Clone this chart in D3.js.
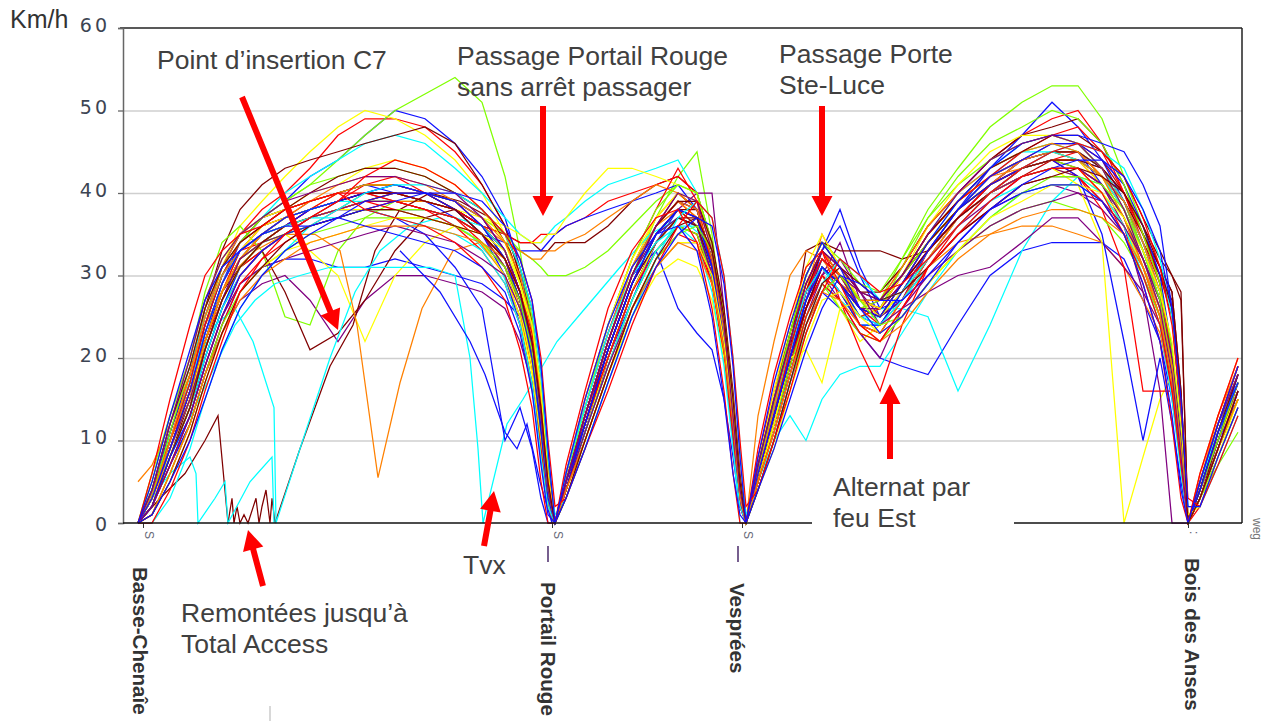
<!DOCTYPE html>
<html><head><meta charset="utf-8">
<script src="https://cdn.jsdelivr.net/npm/d3@7"></script>
<style>body{margin:0;background:#fff}svg{display:block}</style>
</head><body>
<svg id="chart" width="1266" height="721"></svg>
<script>
// ---------------- DATA ----------------
const yTicks = [0, 10, 20, 30, 40, 50, 60];
// distance grid (m) for each section
const gridA = [30,58,94,134,164,198,234,278,324,374,430,484,544,604,664,718,764,794,818,836,850,864];
const gridB = [886,924,970,1018,1066,1110,1148,1178,1202,1220,1234,1246];
const gridC = [1270,1302,1334,1366,1398,1434,1474,1514,1558,1610,1670,1734,1798,1858,1910,1958,2002,2040,2074,2098,2116,2130];
const gridD = [2154,2190,2230];
const stopNames = ["Basse-Chenaîe", "Portail Rouge", "Vesprées", "Bois des Anses"];
const stopDist = [40, 858, 1238, 2130];

// speed runs (km/h), each run = [sectionA, sectionB, sectionC, sectionD]
const redRuns = [
 [[0,4,11,18,25,31,35,38,40,43,47,49,49,48,45,41,36,30,22,13,4,0],[6,14,23,31,37,40,38,31,21,11,3,0],[8,16,23,29,33,30,26,27,31,36,40,44,47,49,50,46,40,34,28,19,9,0],[5,11,18]],
 [[0,2,8,14,22,28,33,34,36,38,39,41,42,40,39,36,32,26,19,10,3,0],[4,11,20,28,34,37,36,30,21,11,2,0],[5,12,19,26,30,28,24,23,27,33,38,42,44,45,44,41,37,31,26,18,8,0],[3,9,16]],
 [[0,3,10,16,23,29,33,36,37,38,40,41,41,40,38,36,35,34,34,35,35,35],[36,37,39,40,41,42,40,33,24,13,4,0],[7,14,21,28,32,30,26,24,28,33,37,40,42,43,43,40,36,31,25,17,8,0],[4,11,18]],
 [[0,3,9,16,22,27,31,33,35,36,38,39,38,38,37,34,30,25,19,11,3,0],[5,13,22,30,36,39,37,30,20,10,2,0],[6,14,22,28,33,27,21,16,24,31,36,40,43,44,45,43,39,34,29,21,11,0],[5,12,19]],
 [[0,2,7,13,19,25,30,33,35,37,38,39,40,39,38,36,33,28,22,13,5,0],[5,12,20,28,33,36,35,29,20,10,3,0],[5,12,19,26,30,28,25,26,29,33,37,41,43,44,42,38,31,16,16,16,9,0],[3,9,15]],
 [[0,4,10,17,24,30,34,36,38,39,40,40,39,38,36,33,29,24,17,9,2,0],[6,15,24,32,38,43,39,31,21,10,2,0],[6,13,21,28,32,30,27,26,30,35,39,42,45,47,48,45,40,35,29,20,10,0],[4,10,17]],
 [[0,1,6,12,18,24,29,32,34,36,37,38,39,38,37,35,32,28,23,14,6,0],[4,10,18,26,32,35,34,29,21,12,4,0],[5,11,18,25,29,27,23,22,26,31,35,38,41,42,42,39,35,30,24,16,7,0],[2,8,14]],
 [[0,0,4,10,16,22,28,32,35,37,39,42,44,43,41,38,35,32,27,20,10,2],[3,9,16,24,31,36,39,37,30,20,10,2],[4,10,16,23,28,32,30,28,29,32,36,40,43,45,46,45,42,37,31,24,14,3],[2,7,13]],
 [[0,6,15,24,30,33,35,36,38,39,40,38,37,36,34,31,27,21,14,5,0,0],[7,16,26,33,37,38,34,26,16,6,0,0],[9,18,25,31,33,29,24,22,26,31,35,39,42,43,43,40,35,29,22,12,3,0],[6,13,20]]
];
const blueRuns = [
 [[0,3,9,15,22,29,34,37,39,42,44,47,50,49,46,42,37,31,24,14,5,0],[4,11,20,28,34,38,37,32,23,13,4,0],[6,13,20,27,33,36,30,25,27,33,38,43,47,51,48,44,39,33,27,18,8,0],[4,11,16]],
 [[0,2,7,12,18,24,29,31,32,32,31,31,32,31,30,29,27,25,20,11,3,0],[5,13,22,30,33,26,23,21,15,8,2,0],[4,10,17,23,28,26,23,20,19,18,24,30,33,34,34,34,32,27,22,15,7,0],[3,9,16]],
 [[0,4,11,18,25,31,35,37,38,39,40,41,40,39,37,35,34,33,33,33,34,35],[36,37,38,39,40,41,38,32,22,12,3,0],[6,13,21,27,33,38,31,26,27,32,37,41,43,44,44,43,39,34,28,20,10,0],[5,12,17]],
 [[0,2,8,14,20,26,31,34,36,37,38,38,37,35,31,26,10,14,9,3,0,0],[4,11,20,27,34,37,36,30,22,12,3,0],[5,12,19,26,31,29,26,25,28,33,37,41,44,45,45,41,37,32,27,19,9,0],[4,10,15]],
 [[0,3,10,17,24,30,33,35,36,38,39,40,41,40,38,35,30,24,17,8,2,0],[6,14,23,31,36,39,38,32,23,13,4,0],[7,15,22,28,31,28,24,24,28,33,38,41,43,44,42,35,22,10,20,12,5,0],[3,9,16]],
 [[0,2,8,13,19,25,30,33,35,36,37,39,40,40,39,37,33,28,21,12,4,0],[4,12,21,29,35,38,37,31,22,12,3,0],[6,13,20,27,31,29,25,24,28,33,38,42,44,46,46,44,41,36,30,21,10,0],[4,10,18]],
 [[0,3,9,16,23,29,33,35,37,38,39,40,41,40,39,36,32,27,20,11,3,0],[5,12,21,29,35,38,37,31,22,12,3,0],[6,13,20,27,31,29,26,25,29,34,39,43,46,47,47,46,45,41,36,26,12,0],[4,11,17]],
 [[0,1,5,10,15,21,26,30,33,35,37,38,39,40,40,39,36,32,27,19,9,0],[3,9,17,25,31,35,37,36,29,19,8,0],[4,9,15,21,26,30,29,27,27,30,34,38,41,43,44,44,42,38,33,26,15,2],[2,8,14]],
 [[0,5,13,21,27,31,33,35,36,36,37,36,35,34,33,31,28,23,16,7,1,0],[6,15,24,31,35,36,33,25,15,6,1,0],[8,17,24,30,34,31,26,23,25,29,34,38,40,41,41,39,35,29,22,13,4,0],[5,12,19]]
];
const limeRuns = [
 [[0,5,13,20,27,32,35,37,39,41,44,47,50,52,54,51,42,33,24,13,4,0],[5,13,22,30,37,42,45,35,24,13,4,0],[7,15,23,30,34,31,27,27,32,38,43,48,51,53,53,49,42,36,29,20,10,0],[3,7,11]],
 [[0,6,13,20,28,34,36,33,25,24,33,37,39,39,38,36,32,27,20,11,3,0],[5,12,21,29,35,38,36,30,21,11,3,0],[6,14,21,28,32,30,27,26,31,37,41,44,46,47,46,43,39,33,27,19,9,0],[4,10,16]],
 [[0,4,10,17,24,30,34,36,38,39,40,41,41,40,39,37,35,33,32,31,30,30],[30,31,33,36,39,41,40,34,24,13,4,0],[6,14,21,28,31,29,26,27,30,35,39,42,44,45,44,42,38,33,28,21,11,0],[3,9,15]],
 [[0,3,9,15,21,27,32,34,36,37,38,39,40,39,38,35,31,26,20,11,3,0],[5,12,21,29,35,38,37,31,22,12,3,0],[5,13,20,27,31,29,25,26,30,34,38,41,43,44,43,41,37,32,27,20,10,0],[4,11,18]],
 [[0,2,8,14,21,27,31,34,35,36,37,38,38,38,37,35,32,27,20,11,3,0],[4,11,19,27,33,36,35,30,21,11,3,0],[5,12,19,25,29,26,23,22,25,29,33,36,38,39,38,37,34,30,25,18,9,0],[3,9,15]],
 [[0,3,11,19,26,31,34,37,39,41,42,43,43,42,40,38,35,31,25,16,6,0],[5,14,24,32,38,41,40,34,25,14,5,0],[6,15,23,30,34,32,29,28,32,37,42,46,48,50,49,46,41,35,29,21,11,0],[4,10,17]],
 [[0,1,6,12,18,24,28,31,33,35,36,37,37,37,36,34,31,27,21,13,4,0],[3,10,18,26,32,35,36,33,25,15,5,0],[4,10,17,23,28,30,27,24,25,29,33,37,40,42,42,41,38,33,27,19,9,0],[3,8,14]]
];
const yellowRuns = [
 [[0,3,10,17,24,31,36,39,42,45,48,50,49,47,44,40,35,29,22,12,4,0],[5,13,22,31,37,40,38,32,23,12,3,0],[7,15,22,29,33,30,26,26,30,35,39,43,45,46,45,42,37,31,25,17,8,0],[4,11,17]],
 [[0,4,10,16,22,28,32,34,35,33,30,22,30,34,36,35,32,27,20,11,3,0],[5,13,22,30,36,39,37,31,22,12,3,0],[6,13,20,26,30,26,22,24,28,33,37,40,42,43,42,40,36,30,24,16,7,0],[4,10,16]],
 [[0,3,9,16,23,29,33,36,37,38,39,40,40,39,38,37,36,35,34,34,35,35],[37,40,43,43,42,41,40,33,24,13,4,0],[5,12,19,26,31,29,26,25,29,34,38,41,43,44,44,41,37,32,27,19,9,0],[4,11,17]],
 [[0,2,8,14,21,27,31,34,35,37,38,39,39,38,37,35,31,26,19,10,3,0],[4,11,20,28,34,37,36,31,22,12,3,0],[5,13,20,27,32,30,26,25,28,32,37,40,42,43,41,34,0,8,15,18,8,0],[3,9,15]],
 [[0,3,9,15,22,28,32,35,36,37,38,38,38,37,36,34,30,25,18,9,2,0],[4,10,18,25,30,32,31,27,20,11,3,0],[5,12,20,21,17,26,27,25,28,33,37,40,42,43,43,40,36,31,26,18,9,0],[4,10,16]],
 [[0,4,12,20,27,32,35,37,38,40,41,43,44,43,41,38,34,29,23,14,5,0],[6,15,24,32,37,40,39,33,24,14,5,0],[7,16,24,31,35,31,27,26,30,36,41,45,47,47,46,43,38,32,26,18,8,0],[5,12,18]],
 [[0,1,5,11,17,23,28,31,33,34,35,36,37,37,36,35,33,29,24,16,6,0],[3,9,17,25,31,34,34,30,22,13,4,0],[4,9,16,22,27,28,25,23,25,29,33,37,39,41,41,40,37,33,28,22,12,1],[2,8,15]]
];
const cyanRuns = [
 [[0,3,10,17,24,30,34,37,40,42,44,46,47,46,43,40,37,35,34,34,35,36],[37,39,41,42,43,44,40,33,24,13,4,0],[6,13,21,27,31,29,25,25,29,34,39,43,46,47,46,43,38,32,27,19,9,0],[5,12,18]],
 [[0,2,7,13,20,26,31,34,35,37,38,39,39,38,37,35,31,26,20,11,3,0],[5,12,21,29,35,38,37,31,22,12,3,0],[5,12,18,25,29,27,25,26,26,25,16,24,33,39,42,41,37,32,27,19,9,0],[4,10,16]],
 [[0,3,9,16,22,28,32,35,36,37,38,40,40,39,38,36,32,27,21,12,4,0],[4,11,20,28,34,37,36,30,21,11,3,0],[5,10,13,10,15,18,19,19,23,28,33,37,40,41,41,39,36,31,26,18,8,0],[4,11,17]],
 [[0,2,8,14,20,26,30,33,35,36,37,38,38,38,37,35,32,27,21,12,4,0],[5,13,22,30,35,37,36,31,22,12,3,0],[6,14,21,27,31,28,24,24,28,33,38,42,45,46,45,43,39,34,28,20,10,0],[4,11,17]],
 [[0,3,10,17,23,29,33,35,37,38,39,39,39,38,37,36,33,29,24,16,7,0],[4,11,19,27,33,36,36,31,23,13,4,0],[6,14,21,27,32,30,27,26,30,35,40,43,45,45,44,42,38,33,27,20,10,0],[5,11,18]],
 [[0,4,12,19,25,30,33,35,36,37,37,38,37,36,35,33,29,24,17,8,2,0],[6,14,23,30,34,36,34,28,19,9,2,0],[7,15,22,28,31,28,25,24,27,31,35,39,41,42,42,40,36,30,24,15,6,0],[5,11,17]],
 [[0,0,3,9,15,21,26,30,33,36,38,40,41,41,40,38,35,31,26,18,8,1],[3,9,17,25,32,37,39,37,30,20,9,1],[4,10,17,24,29,32,30,27,28,32,36,40,43,45,46,45,43,38,32,25,14,2],[2,7,13]]
];
const orangeRuns = [
 [[0,3,9,15,22,28,33,35,37,38,40,41,41,40,39,36,32,27,20,11,3,0],[5,12,21,29,35,38,37,31,22,12,3,0],[7,15,22,29,33,30,26,25,29,34,38,41,44,45,45,43,39,33,28,20,10,0],[5,12,19]],
 [[0,2,7,13,19,25,30,33,35,36,37,38,39,39,38,36,33,28,22,13,5,0],[4,11,19,27,33,36,35,30,21,11,3,0],[5,12,19,26,30,28,25,24,27,31,34,35,36,36,35,34,31,27,23,16,8,0],[4,10,17]],
 [[5,7,12,18,25,31,35,37,38,39,40,41,41,40,38,36,34,33,32,32,33,33],[34,35,37,39,41,40,38,32,23,13,4,0],[6,14,21,28,35,31,27,26,30,35,39,42,44,45,44,42,38,33,28,20,10,0],[5,12,19]],
 [[0,2,9,15,21,27,31,34,36,37,38,40,40,39,38,35,31,27,20,11,3,0],[5,13,22,30,36,39,37,31,22,12,3,0],[6,13,20,27,31,28,24,23,27,32,37,41,44,45,45,42,38,33,27,19,9,0],[4,10,17]],
 [[0,3,10,16,22,28,32,35,36,37,38,39,39,38,37,35,32,27,21,12,4,0],[6,14,23,31,36,38,37,31,22,12,3,0],[13,22,30,33,32,29,27,26,30,35,39,42,43,44,44,42,39,34,28,20,10,0],[6,13,20]],
 [[0,3,10,18,25,30,33,35,37,39,41,42,42,41,39,37,34,30,24,15,5,0],[5,13,22,30,36,39,38,32,23,13,4,0],[6,14,22,29,33,30,27,27,31,36,40,43,45,46,45,42,37,31,25,17,8,0],[5,13,19]],
 [[0,1,6,12,18,23,27,30,32,34,35,36,36,36,35,34,32,28,22,14,5,0],[4,10,18,26,31,34,33,29,21,12,3,0],[5,11,18,24,28,27,24,22,24,28,32,35,37,38,38,37,35,31,26,19,9,0],[3,9,15]]
];
const purpleRuns = [
 [[0,2,7,12,18,23,27,29,30,27,22,27,30,30,29,28,26,22,17,9,2,0],[4,11,19,27,33,36,35,30,22,12,3,0],[5,12,18,25,30,32,28,25,27,31,35,38,40,41,40,38,35,31,26,19,9,0],[3,9,15]],
 [[0,3,9,15,22,28,32,35,37,38,39,40,40,39,38,35,31,26,19,10,3,0],[5,12,21,29,35,38,40,40,26,14,4,0],[6,13,20,26,30,34,27,25,27,32,36,39,42,43,42,39,35,30,25,18,8,0],[3,9,16]],
 [[0,3,10,16,23,29,33,35,36,37,38,38,38,37,36,34,31,26,20,11,3,0],[4,11,20,28,34,37,36,31,22,12,3,0],[6,13,20,26,30,27,23,20,26,28,30,31,34,37,37,34,31,28,24,17,8,0],[4,10,16]],
 [[0,2,8,14,21,27,32,35,36,38,39,40,40,39,38,36,32,27,21,12,4,0],[5,12,21,29,35,38,37,31,22,12,3,0],[5,12,19,26,31,29,26,25,29,33,37,40,42,43,43,41,36,28,16,0,0,0],[3,9,16]],
 [[0,3,9,15,21,27,32,34,35,37,38,39,39,38,37,35,31,27,21,12,4,0],[5,13,22,30,35,37,36,30,21,11,3,0],[6,13,20,27,32,30,26,26,29,33,37,40,42,43,43,41,37,32,27,20,10,0],[4,11,17]],
 [[0,2,7,13,19,25,29,31,32,33,34,35,36,35,34,32,30,26,21,13,4,0],[4,11,19,26,31,34,34,30,22,12,3,0],[5,11,18,24,28,30,28,24,26,30,33,36,38,39,40,39,36,32,27,20,10,0],[3,9,16]],
 [[0,4,12,20,27,32,35,37,39,40,41,42,42,41,40,37,33,28,22,13,4,0],[5,13,22,30,36,40,39,33,24,13,4,0],[7,15,22,29,33,31,28,27,30,35,40,44,46,47,46,43,38,32,26,18,8,0],[5,12,18]]
];
const maroonRuns = [
 [[0,4,11,18,26,33,38,41,43,44,45,46,47,48,46,41,36,30,23,13,4,0],[5,13,22,30,36,40,38,32,23,12,3,0],[7,15,23,30,34,31,28,28,31,36,40,44,47,48,49,46,41,35,30,27,15,0],[5,12,18]],
 [[0,3,10,17,24,30,34,37,38,39,40,41,41,40,38,36,35,34,34,33,33,34],[34,34,36,39,41,42,40,34,24,13,4,0],[6,13,20,27,31,29,27,27,30,34,38,41,43,44,44,42,39,34,30,26,14,0],[4,11,17]],
 [[0,2,8,15,22,28,31,33,28,21,23,27,33,37,38,36,33,28,22,13,5,0],[4,11,20,28,34,37,37,31,22,12,3,0],[6,13,21,33,34,33,33,33,32,33,37,41,43,44,44,42,39,35,31,28,16,0],[4,11,17]],
 [[0,3,9,16,22,28,32,35,37,38,39,40,40,40,38,36,33,28,22,13,4,0],[5,12,21,29,35,38,38,32,23,12,3,0],[6,14,21,28,33,30,27,26,29,34,38,41,43,45,45,43,40,35,31,28,16,0],[4,11,18]],
 [[0,2,8,14,21,27,31,34,36,37,39,40,40,39,38,35,32,27,21,12,4,0],[4,12,21,29,34,37,36,31,22,12,3,0],[6,13,20,26,31,29,26,25,29,33,37,40,43,44,44,43,40,36,32,30,28,0],[3,10,17]],
 [[0,4,12,19,26,31,34,36,38,40,42,43,43,42,40,38,35,31,26,18,8,0],[5,13,22,30,36,39,39,34,26,16,6,0],[7,15,22,29,33,31,28,27,30,35,39,43,45,47,47,45,42,37,33,30,27,0],[4,11,18]],
 [[0,1,5,11,17,23,28,31,34,36,37,38,38,37,36,35,32,28,22,14,5,0],[3,10,18,26,32,36,37,33,25,15,5,0],[4,10,17,24,29,31,29,27,28,31,35,38,41,42,43,42,40,36,31,26,15,0],[3,9,16]]
];
const darkRedRuns = [
 [[0,3,10,16,23,29,33,36,37,39,40,41,41,40,39,37,33,28,22,13,4,0],[5,13,22,30,36,39,38,32,23,13,4,0],[7,14,22,28,32,30,27,26,30,34,38,42,44,46,46,44,40,35,30,25,13,0],[5,12,19]],
 [[0,2,8,14,20,26,30,33,35,37,38,39,40,39,38,35,31,26,20,11,3,0],[4,12,20,28,34,37,36,31,22,12,3,0],[6,13,20,27,31,28,24,23,27,32,37,41,44,45,45,42,38,33,28,20,10,0],[4,10,17]],
 [[0,3,9,16,22,28,32,34,36,38,39,40,39,38,37,35,32,27,20,11,3,0],[5,13,21,29,35,38,36,30,21,11,3,0],[5,12,19,26,31,29,26,25,28,33,37,40,42,44,43,41,37,32,27,20,10,0],[4,11,18]]
];
// individual runs with their own distance points
const remonteesDist  = [30,74,124,164,190,210,218,222,228,234,242,250,266,272,278,286,294,298,304,354,414,460,504,554,614,674,734,774,814,844,858];
const remonteesSpeed = [0,3,6,10,13,0,3,0,2,0,1,0,3,0,2,4,0,3,0,9,19,24,33,38,40,39,37,33,26,12,0];
const tvxDist  = [30,54,94,144,184,224,264,304,354,414,484,554,614,664,694,710,720,768,800,868,924,994,1054,1114,1154,1184,1210,1234];
const tvxSpeed = [0,3,8,14,19,24,27,29,30,31,31,31,31,30,20,9,0,12,15,22,26,31,35,37,35,28,16,0];
const cyanDropDist  = [30,64,104,144,184,224,260,302,306,354,414,464,514,574,634,694,754,794,824,844,858];
const cyanDropSpeed = [0,5,12,19,24,26,22,14,0,9,20,28,33,36,37,35,31,25,14,5,0];
const cyanZigDist  = [30,58,94,134,146,150,184,204,210,254,298,302];
const cyanZigSpeed = [0,3,6,8,6,0,3,5,0,5,8,0];
const orangeDipDist  = [30,54,84,124,164,214,264,324,384,434,468,510,554,598,660,714,764,794,824,844,858];
const orangeDipSpeed = [0,3,8,16,24,30,33,35,35,33,24,5.5,17,26,33,34,30,24,14,4,0];
const blueDipDist  = [554,634,694,724,764,788,808,834,858];
const blueDipSpeed = [33,28,22,18,11,9,12,5,0];

// ---------------- CHART ----------------
const svg = d3.select('#chart');
const L = 123, R = 1242, T = 28, B = 523;
const x = d3.scaleLinear().domain([0, 2238]).range([L, R]);
const y = d3.scaleLinear().domain([0, 60]).range([B, T]);
const FONT = "'Liberation Sans', Arial, sans-serif";

// grid lines
svg.append('g').attr('transform', `translate(${L},0)`)
  .call(d3.axisLeft(y).tickValues(yTicks.filter(v => v > 0 && v < 60)).tickSize(-(R - L)).tickFormat(''))
  .call(g => g.select('.domain').remove())
  .call(g => g.selectAll('line').attr('stroke', '#cfcfcf').attr('stroke-width', 1.3));

// runs
const grids = [gridA, gridB, gridC, gridD];
const groups = [
  [redRuns, '#ff0000'], [blueRuns, '#1010ff'], [limeRuns, '#80ff00'], [yellowRuns, '#ffff00'],
  [cyanRuns, '#00ffff'], [orangeRuns, '#ff8000'], [purpleRuns, '#800080'], [maroonRuns, '#800000'],
  [darkRedRuns, '#c00000']
];
const lines = [];
const maxN = d3.max(groups, g => g[0].length);
for (let i = 0; i < maxN; i++) {
  for (const [runs, col] of groups) {
    if (!runs[i]) continue;
    const pts = [];
    runs[i].forEach((seg, k) => seg.forEach((v, j) => { if (grids[k][j] !== undefined) pts.push([grids[k][j], v]); }));
    lines.push({ col, pts });
  }
  if (i === 2) {
    lines.push({ col: '#800000', pts: remonteesDist.map((d, j) => [d, remonteesSpeed[j]]) });
    lines.push({ col: '#00ffff', pts: tvxDist.map((d, j) => [d, tvxSpeed[j]]) });
    lines.push({ col: '#00ffff', pts: cyanDropDist.map((d, j) => [d, cyanDropSpeed[j]]) });
    lines.push({ col: '#00ffff', pts: cyanZigDist.map((d, j) => [d, cyanZigSpeed[j]]) });
    lines.push({ col: '#ff8000', pts: orangeDipDist.map((d, j) => [d, orangeDipSpeed[j]]) });
    lines.push({ col: '#1010ff', pts: blueDipDist.map((d, j) => [d, blueDipSpeed[j]]) });
  }
}
const line = d3.line().x(d => x(d[0])).y(d => y(d[1]));
svg.append('g').selectAll('path').data(lines).join('path')
  .attr('d', d => line(d.pts)).attr('fill', 'none')
  .attr('stroke', d => d.col).attr('stroke-width', 1.25).attr('stroke-linejoin', 'miter');

// frame
svg.append('line').attr('x1', 120).attr('x2', R).attr('y1', T).attr('y2', T).attr('stroke', '#222').attr('stroke-width', 1.5);
svg.append('line').attr('x1', R).attr('x2', R).attr('y1', T).attr('y2', B).attr('stroke', '#222').attr('stroke-width', 1.5);

// y axis
const yAxis = svg.append('g').attr('transform', `translate(${L},0)`)
  .call(d3.axisLeft(y).tickValues(yTicks).tickSize(5).tickFormat(d3.format('d')));
yAxis.select('.domain').attr('stroke', '#666').attr('stroke-width', 1.5);
yAxis.selectAll('.tick line').attr('stroke', '#666').attr('stroke-width', 1.3);
yAxis.selectAll('.tick text')
  .attr('x', -13).attr('dy', v => v === 0 ? '7px' : '3px')
  .attr('font-family', "'DejaVu Sans', Verdana, sans-serif").attr('font-size', 19)
  .attr('letter-spacing', 3).attr('fill', '#3c4452');
svg.append('text').attr('x', 10).attr('y', 28).text('Km/h')
  .attr('font-family', FONT).attr('font-size', 25).attr('fill', '#333');

// x axis with stop ticks
const xAxis = svg.append('g').attr('transform', `translate(0,${B})`)
  .call(d3.axisBottom(x).tickValues(stopDist).tickSize(5).tickFormat(''));
xAxis.select('.domain').remove();
xAxis.selectAll('.tick line').attr('stroke', '#333');
svg.append('line').attr('x1', L).attr('x2', R).attr('y1', B).attr('y2', B).attr('stroke', '#111').attr('stroke-width', 1.6);

stopDist.forEach((d, i) => {
  const sx = x(d);
  svg.append('text').attr('transform', `translate(${sx + 6},${531}) rotate(90)`)
    .attr('font-family', FONT).attr('font-size', 12).attr('fill', '#6a6a7a')
    .attr('dominant-baseline', 'central').text(i === 3 ? ':' : 'S');
  if (i === 1 || i === 2) {
    svg.append('line').attr('x1', sx - 4).attr('x2', sx - 4).attr('y1', 546).attr('y2', 562)
      .attr('stroke', '#4a2a6a').attr('stroke-width', 1.5);
  }
});
const labelPos = [[140, 567], [548, 582], [737, 583], [1192, 558]];
stopNames.forEach((n, i) => {
  svg.append('text').attr('transform', `translate(${labelPos[i][0]},${labelPos[i][1]}) rotate(90)`)
    .attr('font-family', FONT).attr('font-weight', 'bold').attr('font-size', 20.6).attr('fill', '#333')
    .attr('dominant-baseline', 'central').text(n);
});
svg.append('text').attr('transform', 'translate(1257,518) rotate(90)')
  .attr('font-family', FONT).attr('font-size', 12).attr('fill', '#777')
  .attr('dominant-baseline', 'central').text('weg');
svg.append('line').attr('x1', 270).attr('x2', 270).attr('y1', 706).attr('y2', 721).attr('stroke', '#d8d8d8').attr('stroke-width', 2);

// white box behind "Alternat par feu Est"
svg.append('rect').attr('x', 812).attr('y', 466).attr('width', 202).attr('height', 66).attr('fill', '#fff');

// annotations
const notes = [
  [157, [69], ['Point d’insertion C7']],
  [457, [65, 96], ['Passage Portail Rouge', 'sans arrêt passager']],
  [779, [63, 94], ['Passage Porte', 'Ste-Luce']],
  [833, [496, 527], ['Alternat par', 'feu Est']],
  [181, [622, 653], ['Remontées jusqu’à', 'Total Access']],
  [463, [574], ['Tvx']]
];
notes.forEach(([nx, ys, txt]) => {
  txt.forEach((t, k) => svg.append('text').attr('x', nx).attr('y', ys[k]).text(t)
    .attr('font-family', FONT).attr('font-size', 26.5).attr('fill', '#404040'));
});

// red arrows (tail -> tip)
function arrow(x1, y1, x2, y2) {
  const dx = x2 - x1, dy = y2 - y1, len = Math.hypot(dx, dy);
  const ux = dx / len, uy = dy / len, px = -uy, py = ux;
  const hw = 3, hl = 20, hh = 10.5;
  const bx = x2 - ux * hl, by = y2 - uy * hl;
  const p = [[x1 + px * hw, y1 + py * hw], [bx + px * hw, by + py * hw], [bx + px * hh, by + py * hh], [x2, y2],
             [bx - px * hh, by - py * hh], [bx - px * hw, by - py * hw], [x1 - px * hw, y1 - py * hw]];
  svg.append('polygon').attr('points', p.map(q => q.join(',')).join(' ')).attr('fill', '#ff0000');
}
arrow(242, 97, 338, 330);
arrow(543, 106, 543, 216);
arrow(822, 106, 822, 216);
arrow(890, 459, 890, 384);
arrow(263, 586, 248, 530);
arrow(484, 546, 494, 491);
</script>
</body></html>
